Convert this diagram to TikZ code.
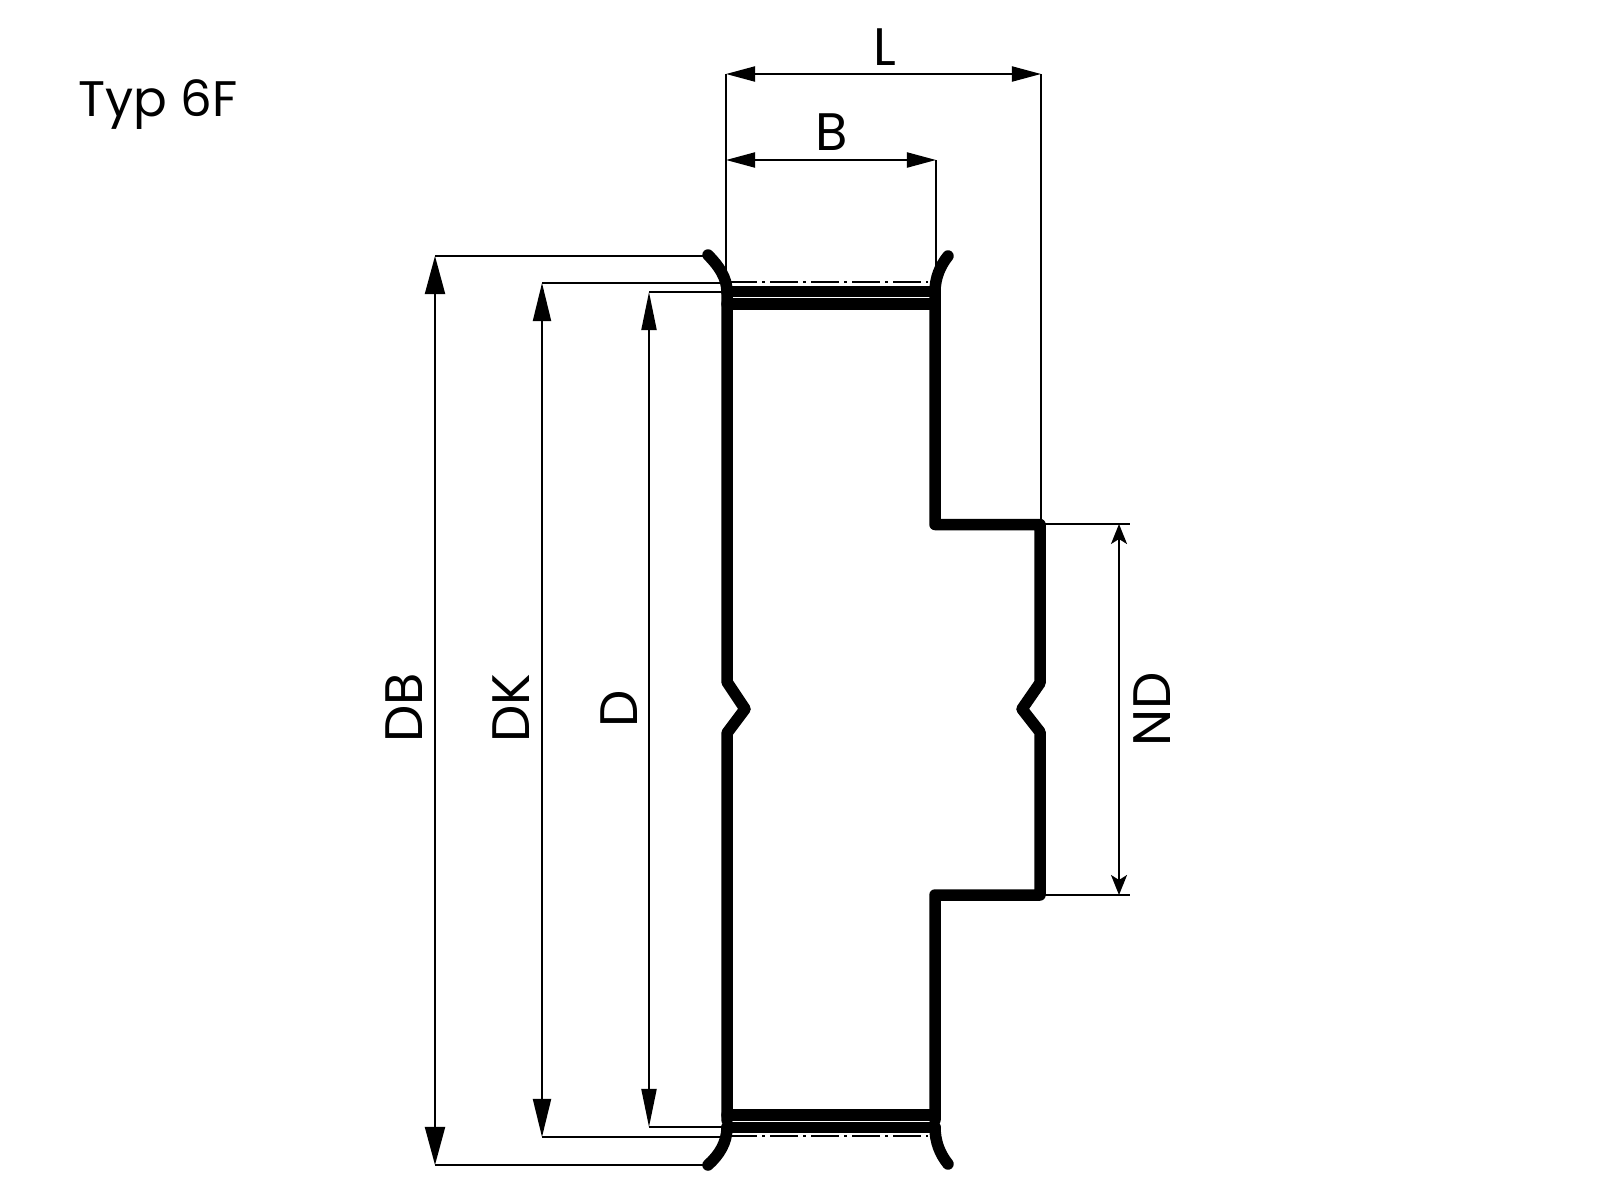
\documentclass[tikz,border=0pt]{standalone}
\usepackage{fontspec}
\setmainfont{Poppins}
\usetikzlibrary{arrows.meta}
\tikzset{
    wall/.style={line width=0.115cm,line join=round,line cap=round},
    thinline/.style={line width=0.02cm},
    dimbig/.style={thinline,{Triangle[length=0.38cm,width=0.2cm]}-{Triangle[length=0.38cm,width=0.2cm]}},
    dimkey/.style={thinline,{Triangle[length=0.38cm,width=0.18cm]}-{Triangle[length=0.38cm,width=0.18cm]}},
    dimmid/.style={thinline,{Triangle[length=0.38cm,width=0.15cm]}-{Triangle[length=0.38cm,width=0.15cm]}},
    dimsmall/.style={thinline,{Triangle[length=0.29cm,width=0.15cm]}-{Triangle[length=0.29cm,width=0.15cm]}},
    dimnd/.style={thinline,{Stealth[length=0.2cm,width=0.16cm,inset=0.05cm]}-{Stealth[length=0.2cm,width=0.16cm,inset=0.05cm]}},
    lab/.style={font=\fontsize{15}{15}\selectfont,inner sep=0pt,anchor=base},
}
\begin{document}
\begin{tikzpicture}[x=0.01cm,y=-0.01cm]
    \useasboundingbox (0,0) rectangle (1600,1200);
    % body outline
    \draw[wall] (727,290)--(727,682)--(745,709)--(727,733)--(727,1120);
    \draw[wall] (935,290)--(935,524.5)--(1040,524.5)--(1040,683)--(1022,709)--(1040,732)--(1040,895)--(935,895)--(935,1120);
    \draw[wall] (727,291.5)--(935,291.5);
    \draw[wall] (727,304)--(935,304);
    \draw[wall] (727,1115)--(935,1115);
    \draw[wall] (727,1127.5)--(935,1127.5);
    % flanges
    \draw[wall] (708,255) .. controls (719,266) and (727,278) .. (727,292);
    \draw[wall] (948,256) .. controls (940,266) and (935,278) .. (935,292);
    \draw[wall] (708,1165) .. controls (719,1155) and (727,1143) .. (727,1127);
    \draw[wall] (948,1164) .. controls (940,1154) and (935,1142) .. (935,1127);
    % centre lines
    \foreach \y in {282,1136}{
        \draw[line width=0.025cm,dash pattern=on 0.28cm off 0.05cm on 0.03cm off 0.05cm] (729,\y)--(928,\y);
    }
    % extension lines
    \coordinate (lt) at (726,74);
    \coordinate (lb) at (1041,74);
    \coordinate (bt) at (726,160);
    \coordinate (bb) at (936,160);
    \draw[thinline] (lt)--(726,285);
    \draw[thinline] (lb)--(1041,523);
    \draw[thinline] (bb)--(936,282);
    \coordinate (dbt) at (435,256);
    \coordinate (dbb) at (435,1165);
    \coordinate (dkt) at (542,283);
    \coordinate (dkb) at (542,1137);
    \coordinate (dt) at (649,292);
    \coordinate (db) at (649,1127);
    \coordinate (ndt) at (1119,524);
    \coordinate (ndb) at (1119,895);
    \draw[thinline] (dbt)--(706,256);
    \draw[thinline] (dbb)--(706,1165);
    \draw[thinline] (dkt)--(726,283);
    \draw[thinline] (dkb)--(726,1137);
    \draw[thinline] (dt)--(722,292);
    \draw[thinline] (db)--(722,1127);
    \draw[thinline] (1040,524)--(1130,524);
    \draw[thinline] (1040,895)--(1130,895);
    % dimensions
    \draw[dimsmall] (lt)--(lb);
    \draw[dimsmall] (bt)--(bb);
    \draw[dimbig] (dbt)--(dbb);
    \draw[dimkey] (dkt)--(dkb);
    \draw[dimmid] (dt)--(db);
    \draw[dimnd] (ndt)--(ndb);
    % labels
    \node[lab,anchor=base west,font=\fontsize{14.2}{15}\selectfont] (typ) at (78,116) {Typ 6F};
    \node[lab] (lL) at (885,65) {L};
    \node[lab] (lB) at (832,150) {B};
    \node[lab,rotate=90] (lDB) at (422,708) {DB};
    \node[lab,rotate=90] (lDK) at (529,708) {DK};
    \node[lab,rotate=90] (lD) at (637,709) {D};
    \node[lab,rotate=90] (lND) at (1170,709) {ND};
\end{tikzpicture}
\end{document}
